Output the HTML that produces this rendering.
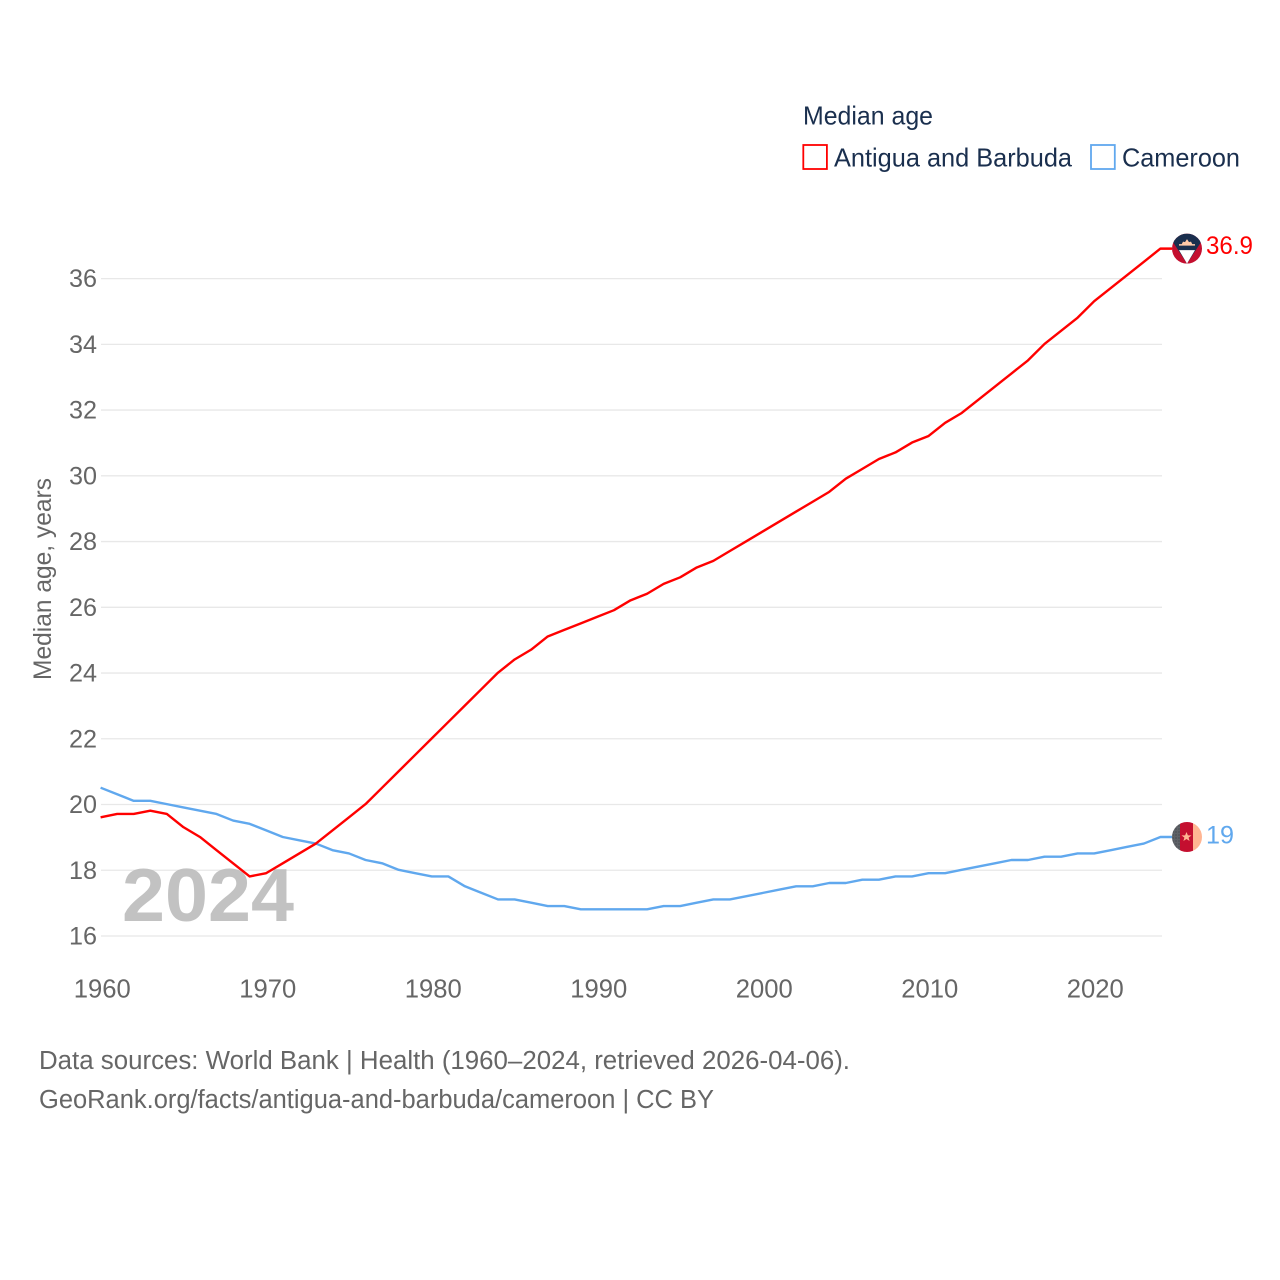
<!DOCTYPE html>
<html lang="en">
<head>
<meta charset="utf-8">
<title>Median age: Antigua and Barbuda vs Cameroon</title>
<style>
html,body{margin:0;padding:0;background:#fff;width:1280px;height:1280px;overflow:hidden}
svg{display:block;font-family:"Liberation Sans",sans-serif}
</style>
</head>
<body>
<svg id="chart" xmlns="http://www.w3.org/2000/svg" width="1280" height="1280" viewBox="0 0 1280 1280">
  <rect x="0" y="0" width="1280" height="1280" fill="#ffffff"/>
  <g id="grid"></g>
  <text x="122" y="921" font-size="75" font-weight="bold" fill="#bdbdbd" fill-opacity="0.92" textLength="172" lengthAdjust="spacingAndGlyphs">2024</text>
  <g id="yticks"></g>
  <g id="xticks"></g>
  <text transform="translate(51 680) rotate(-90)" font-size="25" fill="#666666" textLength="202" lengthAdjust="spacingAndGlyphs">Median age, years</text>
  <g id="series"></g>

  <g>
    <text x="803" y="124.5" font-size="26" fill="#1a2f4e" textLength="130" lengthAdjust="spacingAndGlyphs">Median age</text>
    <g>
      <rect x="803.3" y="145" width="23.6" height="24" fill="#ffffff" stroke="#ff0000" stroke-width="1.8"/>
      <text x="834" y="166.5" font-size="26" fill="#1a2f4e" textLength="238" lengthAdjust="spacingAndGlyphs">Antigua and Barbuda</text>
    </g>
    <g>
      <rect x="1091" y="145" width="23.8" height="24" fill="#ffffff" stroke="#60a8ee" stroke-width="1.8"/>
      <text x="1122" y="166.5" font-size="26" fill="#1a2f4e" textLength="118" lengthAdjust="spacingAndGlyphs">Cameroon</text>
    </g>
  </g>

  <defs>
    <clipPath id="flag-clip"><circle cx="0" cy="0" r="15"/></clipPath>
    <pattern id="dots" width="3" height="3" patternUnits="userSpaceOnUse"><rect width="3" height="3" fill="#5f6368"/><circle cx="1" cy="1" r="0.6" fill="#3a3d41"/></pattern>
  </defs>

  <g id="flag-antigua">
    <g clip-path="url(#flag-clip)">
      <rect x="-15" y="-15" width="30" height="30" fill="#c40f2f"/>
      <polygon points="-15,-15 15,-15 15,-8 0,15 -15,-8" fill="#1a2f4e"/>
      <polygon points="-8,1.5 8,1.5 0,15" fill="#ffffff"/>
      <rect x="-8" y="-4.5" width="16" height="1.5" fill="#ffc9a8"/>
      <path d="M-5.5,-4 L-4,-7 L-2,-6.5 L0,-9.5 L2,-6.5 L4,-7 L5.5,-4 Z" fill="#ffc9a8"/>
    </g>
  </g>
  <g id="flag-cameroon">
    <g clip-path="url(#flag-clip)">
      <rect x="-15" y="-15" width="8" height="30" fill="url(#dots)"/>
      <rect x="-7" y="-15" width="13" height="30" fill="#c40f2f"/>
      <rect x="6" y="-15" width="9" height="30" fill="#ffb592"/>
      <polygon points="-0.5,-5 0.9,-1.6 4.5,-1.6 1.6,0.6 2.6,4 -0.5,2 -3.6,4 -2.6,0.6 -5.5,-1.6 -1.9,-1.6" fill="#ffb592"/>
    </g>
  </g>
  <text id="value-antigua" x="1206" font-size="25" fill="#ff0000" textLength="47" lengthAdjust="spacingAndGlyphs"></text>
  <text id="value-cameroon" x="1206" font-size="25" fill="#60a8ee" textLength="28" lengthAdjust="spacingAndGlyphs"></text>

  <g>
    <text x="39" y="1069" font-size="25.5" fill="#666666" textLength="811" lengthAdjust="spacingAndGlyphs">Data sources: World Bank | Health (1960–2024, retrieved 2026-04-06).</text>
    <text x="39" y="1108" font-size="25.5" fill="#666666" textLength="675" lengthAdjust="spacingAndGlyphs">GeoRank.org/facts/antigua-and-barbuda/cameroon | CC BY</text>
  </g>
</svg>
<script>
const firstYear = 1960;
const antiguaValues = [19.6,19.7,19.7,19.8,19.7,19.3,19.0,18.6,18.2,17.8,
  17.9,18.2,18.5,18.8,19.2,19.6,20.0,20.5,21.0,21.5,
  22.0,22.5,23.0,23.5,24.0,24.4,24.7,25.1,25.3,25.5,
  25.7,25.9,26.2,26.4,26.7,26.9,27.2,27.4,27.7,28.0,
  28.3,28.6,28.9,29.2,29.5,29.9,30.2,30.5,30.7,31.0,
  31.2,31.6,31.9,32.3,32.7,33.1,33.5,34.0,34.4,34.8,
  35.3,35.7,36.1,36.5,36.9];
const cameroonValues = [20.5,20.3,20.1,20.1,20.0,19.9,19.8,19.7,19.5,19.4,
  19.2,19.0,18.9,18.8,18.6,18.5,18.3,18.2,18.0,17.9,
  17.8,17.8,17.5,17.3,17.1,17.1,17.0,16.9,16.9,16.8,
  16.8,16.8,16.8,16.8,16.9,16.9,17.0,17.1,17.1,17.2,
  17.3,17.4,17.5,17.5,17.6,17.6,17.7,17.7,17.8,17.8,
  17.9,17.9,18.0,18.1,18.2,18.3,18.3,18.4,18.4,18.5,
  18.5,18.6,18.7,18.8,19.0];
const yTickLabels = [16,18,20,22,24,26,28,30,32,34,36];
const xTickLabels = [1960,1970,1980,1990,2000,2010,2020];
const antiguaPrinted = "36.9";
const cameroonPrinted = "19";

const NS = "http://www.w3.org/2000/svg";
function xScale(year) { return 100.6 + (year - 1960) * 16.56; }
function xTickScale(year) { return 102.3 + (year - 1960) * 16.55; }
function yScale(value) { return 936 - (value - 16) * 32.87; }
function yLine(value) { return yScale(value) - 0.4; }
function make(tag, parent, attrs) {
  const el = document.createElementNS(NS, tag);
  for (const k in attrs) el.setAttribute(k, attrs[k]);
  parent.appendChild(el);
  return el;
}

const gridG = document.getElementById("grid");
const yG = document.getElementById("yticks");
const xG = document.getElementById("xticks");
const seriesG = document.getElementById("series");

yTickLabels.forEach(function (v) {
  const line = make("line", gridG, {x1: 101, x2: 1162, y1: yScale(v), y2: yScale(v), stroke: "#e8e8e8", "stroke-width": 1.3});
  
  
  const t = make("text", yG, {x: 97, y: yScale(v) + 8.5, "text-anchor": "end", "font-size": 25, fill: "#666666", textLength: 28, lengthAdjust: "spacingAndGlyphs"});
  
  
  t.textContent = String(v);
});

xTickLabels.forEach(function (v) {
  const t = make("text", xG, {x: xTickScale(v), y: 997.5, "text-anchor": "middle", "font-size": 25.5, fill: "#666666", textLength: 57, lengthAdjust: "spacingAndGlyphs"});
  
  
  t.textContent = String(v);
});

function drawSeries(values, color, name) {
  const pts = values.map(function (v, i) { return xScale(firstYear + i).toFixed(2) + "," + yLine(v).toFixed(2); });
  const lastY = yLine(values[values.length - 1]);
  pts.push("1172," + lastY.toFixed(2));
  const line = make("polyline", seriesG, {points: pts.join(" "), fill: "none", stroke: color, "stroke-width": 2.4, "stroke-linejoin": "round"});
  
  
  return lastY;
}
const cameroonLastY = drawSeries(cameroonValues, "#60a8ee", "line-cameroon");
const antiguaLastY = drawSeries(antiguaValues, "#ff0000", "line-antigua");

document.getElementById("flag-antigua").setAttribute("transform", "translate(1187 " + antiguaLastY + ")");
document.getElementById("flag-cameroon").setAttribute("transform", "translate(1187 " + cameroonLastY + ")");
const va = document.getElementById("value-antigua");
va.setAttribute("y", antiguaLastY + 5.5);
va.textContent = antiguaPrinted;
const vc = document.getElementById("value-cameroon");
vc.setAttribute("y", cameroonLastY + 6.5);
vc.textContent = cameroonPrinted;
</script>
</body>
</html>
